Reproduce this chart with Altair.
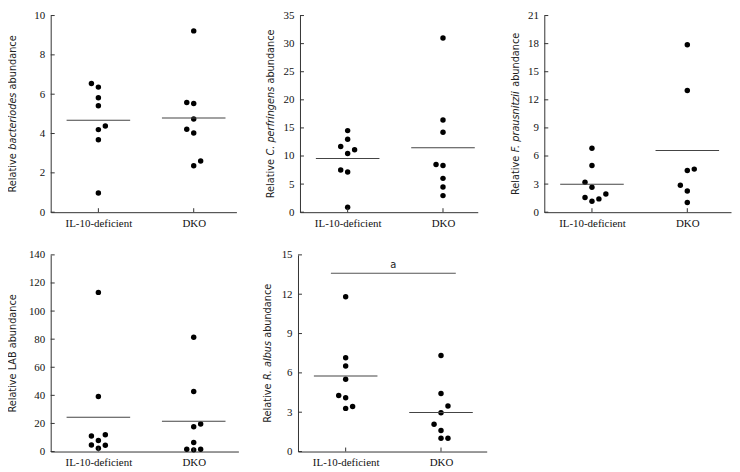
import altair as alt
import pandas as pd

# ---------------- data ----------------
CATS = ["IL-10-deficient", "DKO"]
CAT_POS = [1, 3]

# Panel 1: bacteriodes
BAC_IL10 = [6.54, 6.36, 5.82, 5.41, 4.38, 4.20, 3.68, 0.98]
BAC_IL10_SLOT = [-1, 0, 0, 0, 1, 0, 0, 0]
BAC_DKO = [9.22, 5.58, 5.53, 4.74, 4.22, 4.03, 2.60, 2.36]
BAC_DKO_SLOT = [0, -1, 0, 0, -1, 0, 1, 0]

# Panel 2: C. perfringens
CP_IL10 = [14.52, 12.99, 11.69, 11.10, 10.45, 7.50, 7.14, 0.89]
CP_IL10_SLOT = [0, 0, -1, 1, 0, -1, 0, 0]
CP_DKO = [31.0, 16.41, 14.23, 8.50, 8.32, 6.02, 4.49, 2.95]
CP_DKO_SLOT = [0, 0, 0, -1, 0, 0, 0, 0]

# Panel 3: F. prausnitzii
FP_IL10 = [6.83, 4.99, 3.19, 2.66, 1.95, 1.56, 1.42, 1.17]
FP_IL10_SLOT = [0, 0, -1, 0, 2, -1, 1, 0]
FP_DKO = [17.88, 13.0, 4.60, 4.46, 2.87, 2.27, 1.03]
FP_DKO_SLOT = [0, 0, 1, 0, -1, 0, 0]

# Panel 4: LAB
LAB_IL10 = [113.3, 39.2, 12.0, 11.1, 7.8, 4.7, 4.5, 2.4]
LAB_IL10_SLOT = [0, 0, 1, -1, 0, -1, 1, 0]
LAB_DKO = [81.4, 42.7, 19.6, 17.7, 6.4, 1.65, 1.65, 1.2]
LAB_DKO_SLOT = [0, 0, 1, 0, 0, -1, 1, 0]

# Panel 5: R. albus
RA_IL10 = [11.8, 7.16, 6.53, 5.52, 4.28, 4.10, 3.44, 3.29]
RA_IL10_SLOT = [0, 0, 0, 0, -1, 0, 1, 0]
RA_DKO = [7.32, 4.43, 3.47, 2.96, 2.08, 1.60, 1.01, 1.01]
RA_DKO_SLOT = [0, 0, 1, 0, -1, 0, 0, 1]

RA_SIG_Y = 13.6
RA_SIG_LABEL = "a"

# ---------------- styling ----------------
AX = "#333333"
LABEL_FONT = "Liberation Serif"
TITLE_FONT = "DejaVu Sans"
TITLE_FS = 9.8
PX_PER_UNIT = 48.0
DODGE_PX = 7.0
H = 198

# DejaVu Sans advance widths (units per em = 2048), used to lay out mixed-style titles
DJV = {" ": 651, ".": 651, "A": 1401, "B": 1405, "C": 1430, "F": 1178, "L": 1141,
       "R": 1423, "a": 1255, "b": 1300, "c": 1126, "d": 1300, "e": 1260, "f": 721,
       "g": 1300, "i": 569, "l": 569, "n": 1298, "o": 1253, "p": 1300, "r": 842,
       "s": 1067, "t": 803, "u": 1298, "v": 1212, "z": 1075}


def tw(s, fs=TITLE_FS):
    return sum(DJV.get(c, 1250) for c in s) / 2048.0 * fs


def panel(il, il_slot, dko, dko_slot, ymax, ystep, width, segs, title_d, sig=None):
    xmax = width / PX_PER_UNIT
    rows = []
    for pos, vals, slots in ((CAT_POS[0], il, il_slot), (CAT_POS[1], dko, dko_slot)):
        for v, s in zip(vals, slots):
            rows.append({"pos": pos, "value": v, "x": pos + s * DODGE_PX / PX_PER_UNIT})
    df = pd.DataFrame(rows)

    xscale = alt.Scale(domain=[0, xmax], nice=False, zero=False)
    yscale = alt.Scale(domain=[0, ymax], nice=False, zero=False)
    yvals = list(range(0, ymax + 1, ystep))

    xaxis = alt.Axis(values=CAT_POS,
                     labelExpr=f"datum.value == {CAT_POS[0]} ? '{CATS[0]}' : '{CATS[1]}'",
                     ticks=False, tickSize=0, grid=False, title=None, domainColor=AX,
                     domainWidth=1, labelFont=LABEL_FONT, labelFontSize=11,
                     labelColor="#111111", labelPadding=5)
    yaxis = alt.Axis(values=yvals, ticks=False, tickSize=0, grid=False, title=None,
                     domainColor=AX, domainWidth=1, labelFont=LABEL_FONT, labelFontSize=11,
                     labelColor="#111111", labelPadding=6)

    def X(f):
        return alt.X(f, scale=xscale, axis=xaxis)

    def Y(f):
        return alt.Y(f, scale=yscale, axis=yaxis)

    points = alt.Chart(df).mark_circle(size=30, color="black", opacity=1).encode(
        x=X("x:Q"), y=Y("value:Q"))
    means = alt.Chart(df).mark_tick(orient="horizontal", size=64, thickness=1,
                                    color="#444444", opacity=1).encode(
        x=X("pos:Q"), y=Y("mean(value):Q"))
    yticks = alt.Chart(pd.DataFrame({"t": yvals})).mark_rule(color=AX, strokeWidth=1).encode(
        y=Y("t:Q"), x=alt.value(0), x2=alt.value(4))
    xticks = alt.Chart(pd.DataFrame({"p": CAT_POS})).mark_rule(color=AX, strokeWidth=1).encode(
        x=X("p:Q"), y=alt.value(H), y2=alt.value(H - 4))

    layers = [points, means, yticks, xticks]

    # axis title built from segments so the species name can be italic
    space = tw(" ")
    total = sum(tw(t) for t, _ in segs) + space * (len(segs) - 1)
    cur = H / 2 + total / 2
    for t, ital in segs:
        layers.append(
            alt.Chart(pd.DataFrame({"t": [t]})).mark_text(
                angle=270, align="left", baseline="middle", font=TITLE_FONT,
                fontSize=TITLE_FS, fontStyle="italic" if ital else "normal",
                color="#222222").encode(x=alt.value(-title_d), y=alt.value(cur), text="t:N")
        )
        cur -= tw(t) + space

    if sig is not None:
        sy, lab = sig
        sdf = pd.DataFrame({"x1": [CAT_POS[0] - 0.31], "x2": [CAT_POS[1] + 0.31],
                            "xm": [(CAT_POS[0] + CAT_POS[1]) / 2], "y": [sy], "lab": [lab]})
        layers.append(alt.Chart(sdf).mark_rule(color="#555555", strokeWidth=1.2).encode(
            x=X("x1:Q"), x2="x2:Q", y=Y("y:Q")))
        layers.append(alt.Chart(sdf).mark_text(font=TITLE_FONT, fontSize=10, baseline="alphabetic",
                                               dy=-5, color="#222222").encode(
            x=X("xm:Q"), y=Y("y:Q"), text="lab:N"))

    return alt.layer(*layers).properties(width=width, height=H)


p1 = panel(BAC_IL10, BAC_IL10_SLOT, BAC_DKO, BAC_DKO_SLOT, 10, 2, 187,
           [("Relative", False), ("bacteriodes", True), ("abundance", False)], 37.5)
p2 = panel(CP_IL10, CP_IL10_SLOT, CP_DKO, CP_DKO_SLOT, 35, 5, 179,
           [("Relative", False), ("C. perfringens", True), ("abundance", False)], 29)
p3 = panel(FP_IL10, FP_IL10_SLOT, FP_DKO, FP_DKO_SLOT, 21, 3, 188,
           [("Relative", False), ("F. prausnitzii", True), ("abundance", False)], 28)
p4 = panel(LAB_IL10, LAB_IL10_SLOT, LAB_DKO, LAB_DKO_SLOT, 140, 20, 189,
           [("Relative LAB abundance", False)], 38)
p5 = panel(RA_IL10, RA_IL10_SLOT, RA_DKO, RA_DKO_SLOT, 15, 3, 190,
           [("Relative", False), ("R. albus", True), ("abundance", False)], 30.6,
           sig=(RA_SIG_Y, RA_SIG_LABEL))

top = alt.hconcat(alt.hconcat(p1, p2, spacing=28), p3, spacing=32)
bottom = alt.hconcat(p4, p5, spacing=22)

chart = alt.vconcat(top, bottom, spacing=19).properties(
    padding={"left": -1, "top": -1, "right": 0, "bottom": 0}, background="white"
).configure_view(stroke="transparent")

chart.save("out.html", embed_options={"renderer": "svg", "actions": False})
